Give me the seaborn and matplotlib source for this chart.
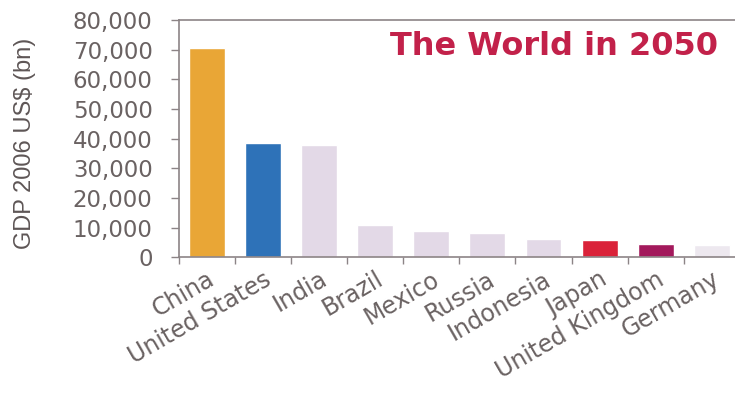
import matplotlib
matplotlib.use("Agg")
import matplotlib.pyplot as plt
from matplotlib.ticker import FixedLocator, FuncFormatter
import seaborn as sns
import pandas as pd

# Projected GDP in 2050, 2006 US$ (bn)
countries = ["China", "United States", "India", "Brazil", "Mexico",
             "Russia", "Indonesia", "Japan", "United Kingdom", "Germany"]
gdp_2050 = [70700, 38400, 38000, 11000, 8700, 8100, 6300, 5700, 4600, 4300]
bar_colors = ["#E9A636", "#2E72B8", "#E3D9E7", "#E3D9E7", "#E3D9E7",
              "#E3D9E7", "#E3D9E7", "#DA2239", "#A3195C", "#EDE8EF"]
y_ticks = [0, 10000, 20000, 30000, 40000, 50000, 60000, 70000, 80000]

df = pd.DataFrame({"country": countries, "gdp": gdp_2050})

sns.set_theme(style="white")
plt.rcParams["font.family"] = ["DejaVu Sans"]

text_grey = "#6A6262"
axis_grey = "#8C8486"

fig = plt.figure(figsize=(7.35, 3.94), dpi=100)
ax = fig.add_axes([0.2435, 0.347, 0.763, 0.602])

sns.barplot(data=df, x="country", y="gdp", hue="country",
            palette=dict(zip(countries, bar_colors)), legend=False,
            width=0.64, saturation=1, ax=ax)

ax.set_xlim(-0.5, len(countries) - 0.5)
ax.set_ylim(0, 80000)

ax.yaxis.set_major_locator(FixedLocator(y_ticks))
ax.yaxis.set_major_formatter(FuncFormatter(lambda v, p: f"{int(v):,}"))
ax.tick_params(axis="y", which="major", direction="out", length=6, width=1,
               color=axis_grey, labelsize=16.5, labelcolor=text_grey, pad=13,
               left=True)

# Category labels on major ticks, small marks between categories
ax.set_xticks(range(len(countries)))
ax.set_xticklabels(countries, rotation=30, ha="right",
                   rotation_mode="anchor", fontsize=17, color=text_grey)
ax.tick_params(axis="x", which="major", length=0, pad=7)
ax.set_xticks([i - 0.5 for i in range(len(countries) + 1)], minor=True)
ax.tick_params(axis="x", which="minor", direction="out", length=5, width=1,
               color=axis_grey, bottom=True)

for side in ["top", "left", "bottom", "right"]:
    ax.spines[side].set_visible(True)
    ax.spines[side].set_color(axis_grey)
    ax.spines[side].set_linewidth(1.2)

ax.set_xlabel("")
ax.set_ylabel("GDP 2006 US$ (bn)", fontsize=17, color="#5E5656",
              family=["Liberation Sans", "DejaVu Sans"])
ax.yaxis.set_label_coords(-0.255, 0.48)

ax.text(0.961, 0.955, "The World in 2050", transform=ax.transAxes,
        ha="right", va="top", fontsize=23, fontweight="bold", color="#C2214A")

fig.savefig("out.png", dpi=100, facecolor="white")
